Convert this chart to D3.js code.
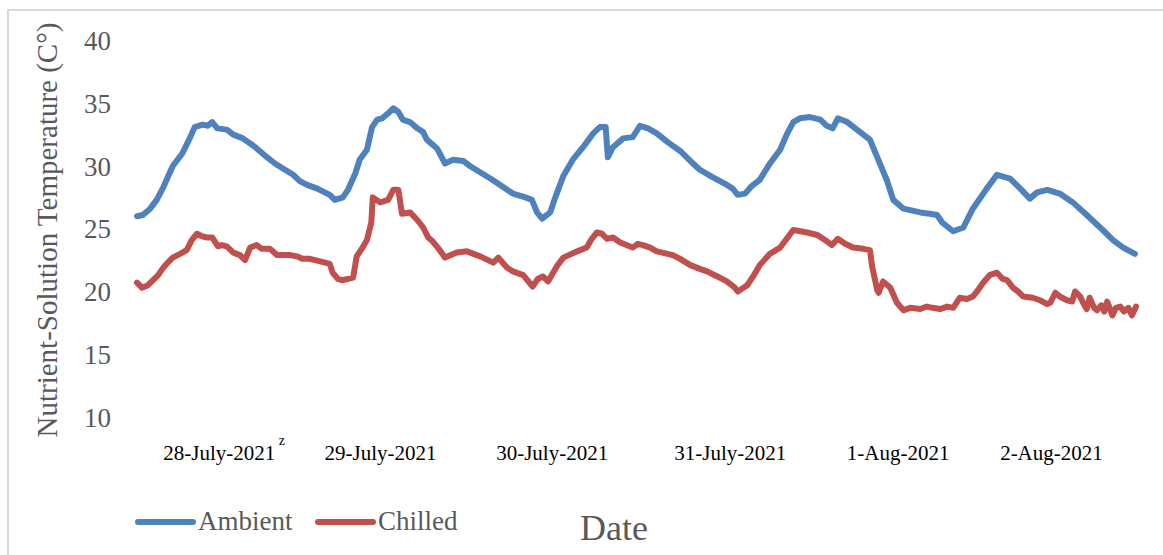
<!DOCTYPE html>
<html>
<head>
<meta charset="utf-8">
<script src="https://cdn.jsdelivr.net/npm/d3@7"></script>
<style>
  html, body { margin: 0; padding: 0; background: #fff; }
  svg { display: block; }
</style>
</head>
<body>
<svg id="chart" width="1163" height="555"></svg>
<script>
// Elapsed hours since logging began, with the solution temperature (°C) at each reading
const ambientHours = [0, 0.8, 1.8, 2.7, 3.6, 4.9, 6.2, 7.3, 7.9, 9.0, 9.7, 10.3, 11.0, 12.3, 13.2, 14.5, 15.5, 16.4, 17.8, 18.9,
  20.0, 21.4, 22.3, 23.3, 24.7, 26.4, 27.1, 28.2, 28.9, 29.9, 30.5, 31.5, 32.2, 32.9, 33.6, 34.4, 35.1, 35.8, 36.4, 37.4,
  38.4, 39.2, 39.7, 41.1, 42.2, 43.3, 44.7, 45.6, 47.0, 48.4, 49.7, 51.5, 53.2, 54.1, 54.8, 55.5, 56.6, 57.3, 58.4, 59.7,
  61.1, 62.5, 63.4, 64.2, 64.5, 65.2, 66.6, 67.9, 68.9, 70.0, 71.2, 72.7, 74.4, 75.8, 77.1, 78.9, 80.5, 81.6, 82.3, 83.3,
  84.2, 85.3, 86.7, 88.1, 89.0, 89.9, 90.8, 92.2, 93.6, 94.5, 95.3, 96.0, 97.3, 98.4, 99.5, 100.4, 101.4, 102.7, 103.6, 105.0,
  107.3, 108.6, 109.6, 110.3, 111.8, 113.2, 114.5, 116.4, 117.8, 119.6, 121.0, 122.3, 123.3, 124.7, 126.4, 128.2, 130.1, 132.3, 133.7, 135.1,
  136.7];
const ambientTemp = [26.0, 26.1, 26.6, 27.3, 28.3, 30.0, 31.0, 32.3, 33.1, 33.3, 33.2, 33.5, 33.0, 32.9, 32.5, 32.2, 31.8, 31.4, 30.7, 30.2,
  29.8, 29.3, 28.8, 28.5, 28.2, 27.7, 27.3, 27.5, 28.1, 29.4, 30.5, 31.3, 33.1, 33.7, 33.8, 34.2, 34.6, 34.3, 33.7, 33.5,
  33.0, 32.7, 32.1, 31.4, 30.2, 30.5, 30.4, 30.0, 29.5, 29.0, 28.5, 27.8, 27.5, 27.3, 26.3, 25.8, 26.3, 27.5, 29.2, 30.5,
  31.5, 32.6, 33.1, 33.1, 30.7, 31.5, 32.2, 32.3, 33.2, 33.0, 32.6, 31.9, 31.2, 30.4, 29.7, 29.1, 28.6, 28.2, 27.7, 27.8,
  28.4, 28.9, 30.2, 31.3, 32.5, 33.5, 33.8, 33.9, 33.7, 33.2, 33.0, 33.8, 33.5, 33.0, 32.5, 32.1, 30.7, 28.9, 27.3, 26.6,
  26.3, 26.2, 26.1, 25.5, 24.8, 25.1, 26.6, 28.2, 29.3, 29.0, 28.2, 27.4, 27.9, 28.1, 27.8, 27.1, 26.1, 24.9, 24.1, 23.5,
  23.0];

const chilledHours = [0, 0.7, 1.5, 2.2, 2.9, 3.6, 4.2, 4.9, 5.9, 6.8, 7.5, 8.2, 8.9, 9.6, 10.3, 11.1, 11.6, 12.3, 13.2, 14.1,
  14.8, 15.5, 16.4, 17.1, 18.2, 19.2, 21.0, 21.9, 22.7, 23.7, 25.1, 26.4, 26.8, 27.5, 28.1, 29.6, 30.1, 31.0, 31.5, 32.1,
  32.3, 33.3, 34.4, 35.1, 35.8, 36.3, 37.4, 38.4, 39.2, 39.9, 40.5, 41.2, 42.2, 43.8, 45.2, 47.0, 48.8, 49.5, 50.7, 51.5,
  52.9, 54.2, 54.9, 55.6, 56.3, 57.5, 58.4, 60.3, 61.6, 62.3, 63.0, 63.7, 64.4, 65.2, 66.2, 67.9, 68.6, 69.3, 70.3, 71.2,
  73.4, 74.4, 75.8, 77.1, 78.1, 79.5, 80.8, 81.9, 82.3, 83.6, 84.4, 85.3, 86.7, 88.1, 89.0, 89.9, 91.8, 93.2, 94.5, 95.2,
  96.0, 97.0, 98.1, 99.5, 100.4, 100.7, 101.4, 101.6, 102.2, 103.2, 104.1, 105.0, 105.9, 107.3, 108.2, 109.0, 110.0, 111.0, 111.8, 112.7,
  113.7, 114.5, 115.2, 115.9, 116.8, 117.8, 118.6, 119.2, 120.0, 120.7, 121.4, 122.7, 123.7, 124.7, 125.1, 125.8, 126.4, 127.4, 128.1, 128.5,
  129.2, 129.6, 130.1, 130.5, 131.1, 131.5, 132.1, 132.5, 132.9, 133.3, 133.6, 134.1, 134.7, 135.2, 135.8, 136.3, 136.85];
const chilledTemp = [20.7, 20.3, 20.5, 20.9, 21.3, 21.9, 22.3, 22.7, 23.0, 23.3, 24.1, 24.6, 24.4, 24.3, 24.3, 23.6, 23.7, 23.6, 23.1, 22.9,
  22.5, 23.5, 23.7, 23.4, 23.4, 22.9, 22.9, 22.8, 22.6, 22.6, 22.4, 22.2, 21.5, 21.0, 20.9, 21.1, 22.8, 23.6, 24.1, 25.5,
  27.5, 27.1, 27.3, 28.1, 28.1, 26.2, 26.3, 25.7, 25.1, 24.3, 24.0, 23.5, 22.7, 23.1, 23.2, 22.8, 22.3, 22.7, 21.9, 21.6,
  21.3, 20.4, 21.0, 21.2, 20.8, 22.0, 22.7, 23.2, 23.5, 24.2, 24.7, 24.6, 24.2, 24.3, 23.9, 23.5, 23.8, 23.7, 23.5, 23.2,
  22.9, 22.6, 22.1, 21.8, 21.6, 21.2, 20.8, 20.3, 20.0, 20.5, 21.2, 22.1, 23.0, 23.5, 24.2, 24.9, 24.7, 24.5, 24.0, 23.7,
  24.2, 23.8, 23.5, 23.4, 23.3, 22.0, 20.1, 19.9, 20.8, 20.3, 19.1, 18.5, 18.7, 18.6, 18.8, 18.7, 18.6, 18.8, 18.7, 19.5,
  19.4, 19.6, 20.1, 20.7, 21.3, 21.5, 21.0, 20.9, 20.3, 20.0, 19.6, 19.5, 19.3, 19.0, 19.1, 19.9, 19.6, 19.3, 19.2, 20.0,
  19.6, 19.1, 18.6, 19.5, 18.7, 18.5, 18.9, 18.4, 19.2, 18.6, 18.1, 18.7, 18.8, 18.4, 18.7, 18.1, 18.8];

// Day labels along the time axis and the elapsed hour each one sits at
const dayLabels = ["28-July-2021", "29-July-2021", "30-July-2021", "31-July-2021", "1-Aug-2021", "2-Aug-2021"];
const dayLabelHours = [11.2, 33.3, 56.8, 81.2, 104.2, 125.2];

const yTicks = [10, 15, 20, 25, 30, 35, 40];
const seriesNames = ["Ambient", "Chilled"];
const seriesColors = ["#4F81BD", "#C0504D"];

const svg = d3.select("#chart");
const serif = "'Liberation Serif', 'Times New Roman', serif";

// outer chart frame
svg.append("rect")
  .attr("x", 8).attr("y", 10)
  .attr("width", 1170).attr("height", 560)
  .attr("fill", "none")
  .attr("stroke", "#d9d9d9")
  .attr("stroke-width", 2);

const x = d3.scaleLinear().domain([0, 136.85]).range([137, 1136]);
const y = d3.scaleLinear().domain([10, 40]).range([417, 40.5]);

// y axis: labels only, no line or ticks
const yAxis = d3.axisLeft(y).tickValues(yTicks).tickSize(0).tickPadding(0);
const yg = svg.append("g").attr("transform", "translate(111,0)").call(yAxis);
yg.select(".domain").remove();
yg.selectAll("text")
  .attr("font-family", serif)
  .attr("font-size", 27)
  .attr("fill", "#595959")
  .attr("dy", "0.34em");

// x axis: day labels only
const xAxis = d3.axisBottom(x).tickValues(dayLabelHours)
  .tickFormat((d, i) => dayLabels[i]).tickSize(0).tickPadding(0);
const xg = svg.append("g").attr("transform", "translate(0,460)").call(xAxis);
xg.select(".domain").remove();
xg.selectAll("text")
  .attr("font-family", serif)
  .attr("font-size", 21)
  .attr("fill", "#000")
  .attr("dy", 0);

// footnote marker on the first day label
const firstLabel = xg.select(".tick text").node();
const bb = firstLabel.getBBox();
svg.append("text")
  .attr("x", x(dayLabelHours[0]) + bb.width / 2 + 4)
  .attr("y", 445)
  .attr("font-family", serif)
  .attr("font-size", 14)
  .attr("fill", "#000")
  .text("z");

// series lines
const line = d3.line().x(d => x(d[0])).y(d => y(d[1]));
const ambient = ambientHours.map((h, i) => [h, ambientTemp[i]]);
const chilled = chilledHours.map((h, i) => [h, chilledTemp[i]]);

[ambient, chilled].forEach((data, i) => {
  svg.append("path")
    .datum(data)
    .attr("d", line)
    .attr("fill", "none")
    .attr("stroke", seriesColors[i])
    .attr("stroke-width", 6)
    .attr("stroke-linejoin", "round")
    .attr("stroke-linecap", "round");
});

// y axis title
svg.append("text")
  .attr("transform", "translate(57,230) rotate(-90)")
  .attr("text-anchor", "middle")
  .attr("font-family", serif)
  .attr("font-size", 29)
  .attr("fill", "#595959")
  .text("Nutrient-Solution Temperature (C°)");

// x axis title
svg.append("text")
  .attr("x", 614).attr("y", 540)
  .attr("text-anchor", "middle")
  .attr("font-family", serif)
  .attr("font-size", 36)
  .attr("fill", "#595959")
  .text("Date");

// legend
const legendX = [138, 318];
seriesNames.forEach((name, i) => {
  const g = svg.append("g").attr("transform", `translate(${legendX[i]},0)`);
  g.append("line")
    .attr("x1", 0).attr("x2", 55)
    .attr("y1", 522).attr("y2", 522)
    .attr("stroke", seriesColors[i])
    .attr("stroke-width", 6)
    .attr("stroke-linecap", "round");
  g.append("text")
    .attr("x", 60).attr("y", 530)
    .attr("font-family", serif)
    .attr("font-size", 27)
    .attr("fill", "#595959")
    .text(name);
});
</script>
</body>
</html>
